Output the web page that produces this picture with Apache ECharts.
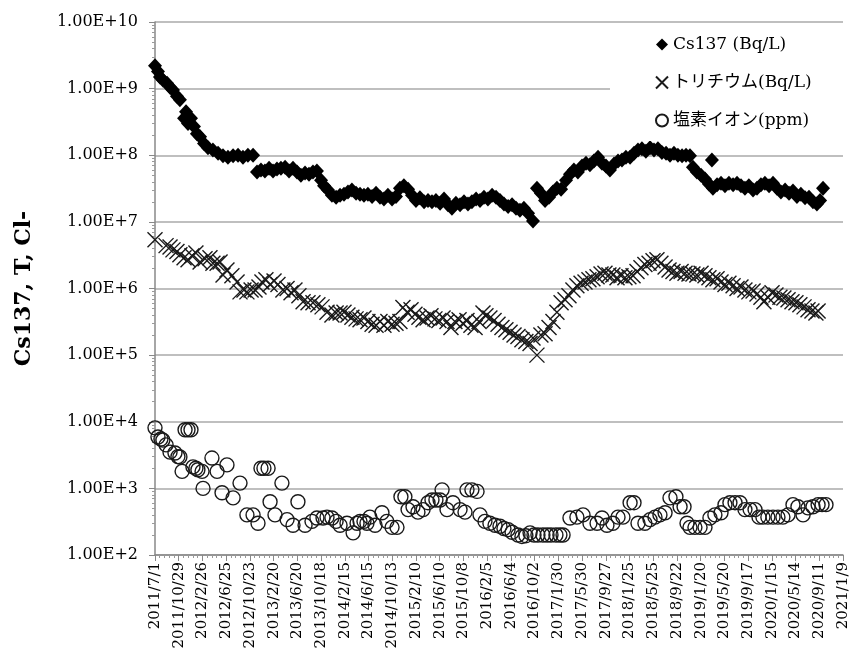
<!DOCTYPE html>
<html>
<head>
<meta charset="utf-8">
<script src="https://cdn.jsdelivr.net/npm/echarts@6/dist/echarts.min.js"></script>
<style>
html, body { margin: 0; padding: 0; background: #fff; }
#chart { width: 852px; height: 656px; }
</style>
</head>
<body>
<div id="chart"></div>
<script>
// x values are days counted from 2011/7/1
var startDate = Date.UTC(2011, 6, 1);
var dayStep = 120;
var lastDay = 3480;

var seriesNames = ['Cs137 (Bq/L)', 'トリチウム(Bq/L)', '塩素イオン(ppm)'];

// Cs137 [day, Bq/L]
var cs137 = [
  [0,2.2e9],[15,1.8e9],[25,1.5e9],[40,1.35e9],[61,1.2e9],[76,1.05e9],[91,9.5e8],[111,7.7e8],[126,6.8e8],
  [147,3.6e8],[157,4.5e8],[167,3.0e8],[182,3.6e8],[197,2.7e8],[212,2.1e8],[228,1.9e8],[248,1.5e8],
  [268,1.3e8],[293,1.2e8],[319,1.07e8],[344,9.8e7],[369,9.3e7],[395,9.8e7],[420,1.0e8],[445,9.3e7],
  [470,1.0e8],[496,1.0e8],[516,5.6e7],[536,6.0e7],[556,5.8e7],[577,6.4e7],[597,5.8e7],[617,6.2e7],
  [637,6.4e7],[658,6.6e7],[678,5.8e7],[698,6.4e7],[718,5.6e7],[738,5.0e7],[759,5.4e7],[779,5.2e7],
  [799,5.6e7],[819,5.8e7],[840,4.2e7],[855,3.5e7],[875,3.0e7],[895,2.5e7],[916,2.35e7],[936,2.5e7],
  [956,2.6e7],[976,2.8e7],[996,3.0e7],[1017,2.7e7],[1037,2.6e7],[1057,2.5e7],[1077,2.6e7],[1098,2.4e7],
  [1118,2.7e7],[1138,2.35e7],[1158,2.2e7],[1178,2.5e7],[1199,2.2e7],[1219,2.4e7],[1239,3.2e7],[1259,3.5e7],
  [1280,3.1e7],[1300,2.5e7],[1320,2.1e7],[1340,2.3e7],[1361,2.0e7],[1381,2.1e7],[1401,2.0e7],[1421,2.1e7],
  [1442,1.9e7],[1462,2.2e7],[1482,1.8e7],[1502,1.6e7],[1522,1.9e7],[1543,1.8e7],[1563,2.0e7],[1583,1.85e7],
  [1603,2.0e7],[1624,2.2e7],[1644,2.1e7],[1664,2.35e7],[1684,2.2e7],[1705,2.5e7],[1725,2.35e7],[1745,2.1e7],
  [1765,1.85e7],[1786,1.7e7],[1806,1.8e7],[1826,1.6e7],[1846,1.5e7],[1866,1.6e7],[1887,1.35e7],[1912,1.03e7],
  [1932,3.2e7],[1952,2.7e7],[1973,2.1e7],[1993,2.35e7],[2013,2.8e7],[2033,3.2e7],[2054,3.1e7],[2079,4.2e7],
  [2099,5.2e7],[2119,6.0e7],[2139,5.6e7],[2160,6.9e7],[2180,7.6e7],[2200,7.2e7],[2220,8.2e7],[2241,9.3e7],
  [2261,7.6e7],[2281,6.9e7],[2301,6.0e7],[2322,7.4e7],[2342,8.2e7],[2362,8.5e7],[2382,9.3e7],[2403,9.3e7],
  [2423,1.07e8],[2443,1.2e8],[2463,1.25e8],[2483,1.15e8],[2504,1.3e8],[2524,1.2e8],[2544,1.25e8],[2564,1.1e8],
  [2585,1.07e8],[2605,1.0e8],[2625,1.07e8],[2645,1.0e8],[2666,9.8e7],[2686,1.0e8],[2706,9.8e7],[2721,6.6e7],
  [2741,5.6e7],[2762,5.0e7],[2782,4.4e7],[2802,3.7e7],[2817,8.5e7],[2822,3.2e7],[2843,3.6e7],[2863,3.8e7],
  [2883,3.5e7],[2903,3.8e7],[2924,3.6e7],[2944,3.8e7],[2964,3.5e7],[2984,3.2e7],[3004,3.5e7],[3025,3.0e7],
  [3045,3.2e7],[3065,3.6e7],[3085,3.8e7],[3106,3.5e7],[3126,3.8e7],[3146,3.2e7],[3166,2.8e7],[3187,3.0e7],
  [3207,2.7e7],[3227,2.9e7],[3247,2.4e7],[3267,2.6e7],[3288,2.3e7],[3308,2.35e7],[3328,2.0e7],[3348,1.85e7],
  [3364,2.1e7],[3379,3.2e7]
];

// tritium [day, Bq/L]
var tritium = [
  [0,5.4e6],[56,4.4e6],[76,4.2e6],[91,3.8e6],[111,3.6e6],[126,3.2e6],[147,2.9e6],[167,2.7e6],[187,3.1e6],
  [207,3.4e6],[228,2.5e6],[253,2.8e6],[278,2.9e6],[293,2.4e6],[314,2.4e6],[329,2.5e6],[344,1.6e6],[364,1.9e6],
  [389,1.55e6],[415,1.25e6],[430,8.9e5],[450,9.5e5],[465,8.9e5],[486,9.5e5],[506,9.5e5],[526,1.05e6],
  [541,1.25e6],[561,1.35e6],[582,1.15e6],[602,1.3e6],[622,1.15e6],[647,9.5e5],[668,1.0e6],[688,8.6e5],
  [708,9.5e5],[728,7.8e5],[749,6.3e5],[774,6.1e5],[799,6.1e5],[824,5.7e5],[845,5.3e5],[870,4.4e5],
  [895,4.0e5],[916,4.3e5],[936,4.3e5],[956,4.4e5],[976,4.0e5],[996,3.7e5],[1017,3.5e5],[1037,3.4e5],
  [1057,3.6e5],[1077,3.2e5],[1098,2.9e5],[1118,2.8e5],[1138,3.2e5],[1158,2.8e5],[1178,3.2e5],[1199,2.9e5],
  [1219,3.0e5],[1239,3.2e5],[1254,5.2e5],[1275,4.4e5],[1295,4.8e5],[1315,4.1e5],[1335,3.7e5],[1356,3.4e5],
  [1376,3.6e5],[1396,3.9e5],[1416,3.5e5],[1436,3.3e5],[1457,3.6e5],[1477,3.2e5],[1497,2.6e5],[1517,3.2e5],
  [1538,3.4e5],[1558,3.0e5],[1578,3.3e5],[1598,2.8e5],[1619,2.6e5],[1639,3.2e5],[1659,4.3e5],[1674,3.9e5],
  [1694,3.6e5],[1715,3.3e5],[1735,2.9e5],[1755,2.6e5],[1775,2.4e5],[1796,2.2e5],[1816,2.0e5],[1836,1.9e5],
  [1856,1.7e5],[1876,1.6e5],[1897,1.5e5],[1912,1.8e5],[1932,1.0e5],[1952,2.0e5],[1973,2.1e5],[1993,2.6e5],
  [2013,3.2e5],[2033,4.4e5],[2054,6.1e5],[2074,6.8e5],[2094,7.8e5],[2114,9.5e5],[2134,1.1e6],[2155,1.2e6],
  [2175,1.25e6],[2195,1.35e6],[2215,1.4e6],[2236,1.5e6],[2256,1.65e6],[2276,1.7e6],[2296,1.6e6],[2316,1.6e6],
  [2337,1.45e6],[2357,1.55e6],[2377,1.45e6],[2397,1.5e6],[2418,1.55e6],[2438,1.8e6],[2458,2.05e6],[2478,2.3e6],
  [2499,2.4e6],[2519,2.6e6],[2539,2.7e6],[2559,2.4e6],[2580,2.1e6],[2600,1.9e6],[2620,1.8e6],[2640,1.7e6],
  [2661,1.8e6],[2681,1.7e6],[2701,1.65e6],[2721,1.65e6],[2741,1.6e6],[2762,1.7e6],[2782,1.55e6],[2802,1.45e6],
  [2822,1.35e6],[2843,1.4e6],[2863,1.25e6],[2883,1.15e6],[2903,1.2e6],[2924,1.1e6],[2944,1.0e6],[2964,1.05e6],
  [2984,9.5e5],[3004,8.9e5],[3025,9.2e5],[3045,8.3e5],[3065,7.4e5],[3080,6.3e5],[3100,7.4e5],[3121,8.6e5],
  [3141,8.0e5],[3161,7.4e5],[3181,7.2e5],[3202,6.8e5],[3222,6.3e5],[3242,6.1e5],[3262,5.7e5],[3283,5.3e5],
  [3303,4.8e5],[3323,4.6e5],[3343,4.3e5],[3354,4.6e5]
];

// chloride [day, ppm]
var chloride = [
  [0,8.1e3],[15,5.9e3],[30,5.5e3],[40,5.3e3],[56,4.5e3],[76,3.5e3],[101,3.4e3],[116,3.0e3],[126,2.96e3],
  [137,1.8e3],[152,7.6e3],[167,7.6e3],[182,7.6e3],[192,2.1e3],[207,2.0e3],[217,1.9e3],[238,1.8e3],[243,1.0e3],
  [288,2.85e3],[314,1.8e3],[339,8.6e2],[364,2.25e3],[395,7.2e2],[430,1.2e3],[465,4.0e2],[496,4.0e2],[521,3.0e2],
  [536,2.0e3],[551,2.0e3],[572,2.0e3],[582,6.3e2],[607,4.0e2],[642,1.2e3],[668,3.4e2],[698,2.8e2],[723,6.3e2],
  [759,2.8e2],[794,3.2e2],[819,3.6e2],[850,3.6e2],[870,3.7e2],[895,3.6e2],[916,3.2e2],[936,2.8e2],[971,3.0e2],
  [1002,2.15e2],[1022,3.0e2],[1037,3.2e2],[1057,3.2e2],[1072,3.0e2],[1087,3.7e2],[1113,2.8e2],[1148,4.3e2],
  [1173,3.2e2],[1199,2.6e2],[1224,2.6e2],[1244,7.5e2],[1264,7.5e2],[1280,4.8e2],[1305,5.3e2],[1330,4.4e2],
  [1356,4.8e2],[1381,6.1e2],[1401,6.7e2],[1421,6.7e2],[1442,6.7e2],[1452,9.5e2],[1477,4.8e2],[1507,6.1e2],
  [1543,4.8e2],[1568,4.4e2],[1578,9.5e2],[1603,9.5e2],[1629,9.0e2],[1644,4.0e2],[1669,3.2e2],[1694,3.0e2],
  [1720,2.8e2],[1745,2.7e2],[1765,2.5e2],[1786,2.4e2],[1806,2.2e2],[1836,2.0e2],[1856,1.9e2],[1876,1.95e2],
  [1897,2.15e2],[1917,2.0e2],[1937,2.0e2],[1962,2.0e2],[1983,2.0e2],[2003,2.0e2],[2028,2.0e2],[2048,2.0e2],
  [2064,2.0e2],[2099,3.6e2],[2134,3.7e2],[2165,4.0e2],[2200,3.0e2],[2236,3.0e2],[2261,3.6e2],[2286,2.8e2],
  [2316,3.0e2],[2342,3.7e2],[2367,3.7e2],[2403,6.1e2],[2423,6.1e2],[2443,3.0e2],[2478,3.0e2],[2504,3.4e2],
  [2529,3.7e2],[2554,4.0e2],[2580,4.3e2],[2605,7.2e2],[2635,7.5e2],[2656,5.3e2],[2676,5.3e2],[2691,3.0e2],
  [2706,2.6e2],[2731,2.6e2],[2757,2.6e2],[2782,2.6e2],[2807,3.6e2],[2832,4.0e2],[2863,4.3e2],[2883,5.7e2],
  [2908,6.1e2],[2934,6.1e2],[2959,6.1e2],[2984,4.8e2],[3010,4.8e2],[3035,4.8e2],[3055,3.7e2],[3075,3.7e2],
  [3100,3.7e2],[3126,3.7e2],[3151,3.7e2],[3176,3.7e2],[3202,4.0e2],[3227,5.7e2],[3252,5.3e2],[3278,4.0e2],
  [3303,5.1e2],[3328,5.3e2],[3354,5.7e2],[3374,5.7e2],[3394,5.7e2]
];

var serif = '"DejaVu Serif", "Noto Sans CJK JP", serif';
var crossPath = 'path://M0,0L10,10M10,0L0,10';

function dayLabel(d) {
  var t = new Date(startDate + d * 86400000);
  return t.getUTCFullYear() + '/' + (t.getUTCMonth() + 1) + '/' + t.getUTCDate();
}

var myChart = echarts.init(document.getElementById('chart'));
var option = {
  backgroundColor: '#fff',
  animation: false,
  textStyle: { fontFamily: serif, color: '#000' },
  grid: { left: 155, right: 9, top: 22, bottom: 101 },
  legend: {
    orient: 'vertical',
    left: 610,
    top: 26,
    padding: [10, 60, 12, 45],
    backgroundColor: '#fff',
    itemWidth: 12,
    itemHeight: 12,
    itemGap: 21,
    textStyle: { fontFamily: serif, fontSize: 17, color: '#000' },
    data: [
      { name: seriesNames[0], icon: 'diamond' },
      { name: seriesNames[1], icon: crossPath },
      { name: seriesNames[2], icon: 'circle' }
    ]
  },
  xAxis: {
    type: 'value',
    min: 0,
    max: lastDay,
    interval: dayStep,
    axisLine: { lineStyle: { color: '#888', width: 1.5 } },
    axisTick: { length: 6, lineStyle: { color: '#888' } },
    minorTick: { show: true, splitNumber: 5, length: 3, lineStyle: { color: '#999' } },
    splitLine: { show: false },
    axisLabel: {
      rotate: 90,
      fontFamily: serif,
      fontSize: 15,
      color: '#000',
      margin: 7,
      formatter: dayLabel
    }
  },
  yAxis: {
    type: 'log',
    logBase: 10,
    min: 1e2,
    max: 1e10,
    interval: 1,
    name: 'Cs137, T, Cl-',
    nameLocation: 'middle',
    nameGap: 120,
    nameTextStyle: { fontFamily: serif, fontSize: 22, fontWeight: 'bold', color: '#000' },
    axisLine: { show: true, lineStyle: { color: '#888', width: 1.5 } },
    axisTick: { show: true, length: 6, lineStyle: { color: '#888' } },
    minorTick: { show: true, splitNumber: 9, length: 3, lineStyle: { color: '#999' } },
    splitLine: { show: true, lineStyle: { color: '#aaa', width: 1.5 } },
    axisLabel: {
      fontFamily: serif,
      fontSize: 16,
      color: '#000',
      margin: 17,
      formatter: function (v) { return v.toExponential(2).toUpperCase(); }
    }
  },
  series: [
    {
      name: seriesNames[0],
      type: 'scatter',
      symbol: 'diamond',
      symbolSize: [14, 15],
      itemStyle: { color: '#000', opacity: 1 },
      data: cs137
    },
    {
      name: seriesNames[1],
      type: 'scatter',
      symbol: crossPath,
      symbolSize: 15,
      itemStyle: { color: 'rgba(0,0,0,0)', borderColor: '#1a1a1a', borderWidth: 1.4, opacity: 1 },
      data: tritium
    },
    {
      name: seriesNames[2],
      type: 'scatter',
      symbol: 'circle',
      symbolSize: 14,
      itemStyle: { color: 'rgba(0,0,0,0)', borderColor: '#1a1a1a', borderWidth: 1.4, opacity: 1 },
      data: chloride
    }
  ]
};
myChart.setOption(option);

window.onresize = function () {
  myChart.resize();
};
</script>
</body>
</html>
